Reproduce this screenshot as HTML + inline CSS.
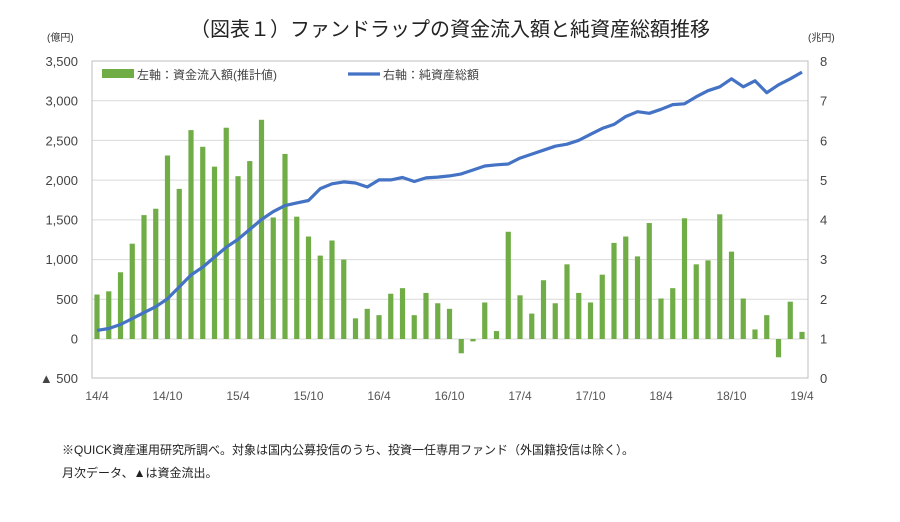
<!DOCTYPE html>
<html><head><meta charset="utf-8"><style>
body{margin:0;background:#fff;}
svg text{font-family:"Liberation Sans","Noto Sans CJK JP",sans-serif;}
</style></head><body>
<svg id="c" width="900" height="517" xmlns="http://www.w3.org/2000/svg">
<text x="450" y="36" font-size="20" text-anchor="middle" fill="#222">（図表１）ファンドラップの資金流入額と純資産総額推移</text>
<text x="47" y="41" font-size="10" fill="#333">(億円)</text>
<text x="808" y="41" font-size="10" fill="#333">(兆円)</text>
<g id="g"></g>
<text x="62" y="454" font-size="12" fill="#222">※QUICK資産運用研究所調べ。対象は国内公募投信のうち、投資一任専用ファンド（外国籍投信は除く）。</text>
<text x="62" y="477" font-size="12" fill="#222">月次データ、▲は資金流出。</text>
</svg>
<script>
var bars=[560,600,840,1200,1560,1640,2310,1890,2630,2420,2170,2660,2050,2240,2760,1530,2330,1540,1290,1050,1240,1000,260,380,300,570,640,300,580,450,380,-180,-30,460,100,1350,550,320,740,450,940,580,460,810,1210,1290,1040,1460,510,640,1520,940,990,1570,1100,510,120,300,-230,470,90];
var line=[1.2,1.25,1.35,1.5,1.65,1.8,2.0,2.3,2.6,2.8,3.05,3.3,3.5,3.75,4.0,4.2,4.35,4.42,4.48,4.78,4.9,4.95,4.92,4.82,5.0,5.0,5.06,4.96,5.05,5.07,5.1,5.15,5.25,5.35,5.38,5.4,5.55,5.65,5.75,5.85,5.9,6.0,6.15,6.3,6.4,6.6,6.72,6.68,6.78,6.9,6.92,7.1,7.25,7.35,7.55,7.35,7.5,7.2,7.4,7.55,7.72];
var L=92,R=808,T=61,Z=339,B=378,u=(Z-T)/3500;
var h='';
for(var v=500;v<=3500;v+=500){var y=Z-v*u;h+='<line x1="'+L+'" x2="'+R+'" y1="'+y+'" y2="'+y+'" stroke="#d9d9d9"/>';}
h+='<rect x="'+L+'" y="'+T+'" width="'+(R-L)+'" height="'+(B-T)+'" fill="none" stroke="#bfbfbf"/>';
h+='<line x1="'+L+'" x2="'+R+'" y1="'+Z+'" y2="'+Z+'" stroke="#d9d9d9"/>';
var lab=['3,500','3,000','2,500','2,000','1,500','1,000','500','0','▲ 500'];
for(var i=0;i<9;i++){var y=T+i*(B-T)/8;h+='<text x="78" y="'+(y+5)+'" font-size="13" text-anchor="end" fill="#444">'+lab[i]+'</text>';h+='<text x="820" y="'+(y+5)+'" font-size="13" fill="#444">'+(8-i)+'</text>';}
var x0=97,dx=(802-97)/60;
var xl=['14/4','14/10','15/4','15/10','16/4','16/10','17/4','17/10','18/4','18/10','19/4'];
for(var k=0;k<11;k++){var x=x0+k*6*dx;h+='<text x="'+x+'" y="400" font-size="12" text-anchor="middle" fill="#555">'+xl[k]+'</text>';}
for(var i=0;i<bars.length;i++){var x=x0+i*dx,v=bars[i],y=v>=0?Z-v*u:Z;h+='<rect x="'+(x-2.6)+'" y="'+y+'" width="5.2" height="'+Math.abs(v*u)+'" fill="#70ad47"/>';}
var p='';for(var i=0;i<line.length;i++){p+=(i?'L':'M')+(x0+i*dx).toFixed(1)+' '+(B-line[i]*(B-T)/8).toFixed(1);}
h+='<path d="'+p+'" fill="none" stroke="#4472c4" stroke-width="3.2" stroke-linejoin="round"/>';
h+='<rect x="102" y="69" width="32" height="9" fill="#70ad47"/><text x="137" y="79" font-size="12" fill="#444">左軸：資金流入額(推計値)</text>';
h+='<line x1="348" x2="380" y1="74" y2="74" stroke="#4472c4" stroke-width="3.2"/><text x="383" y="79" font-size="12" fill="#444">右軸：純資産総額</text>';
document.getElementById('g').innerHTML=h;
</script>
</body></html>
